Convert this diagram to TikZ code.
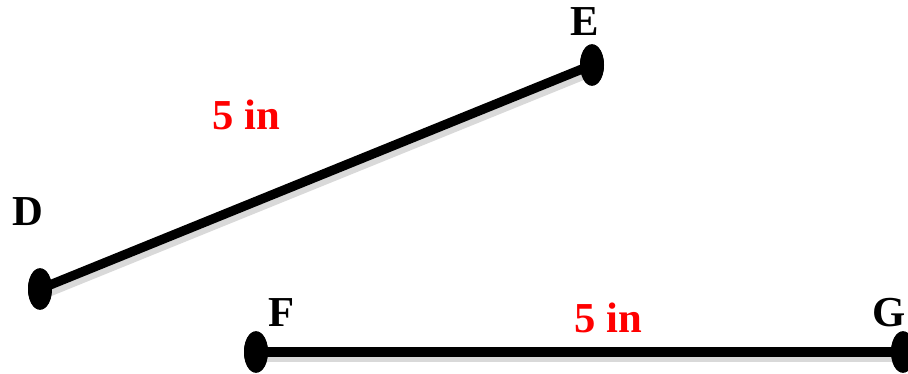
\documentclass[tikz,border=0pt]{standalone}
\usepackage{fontspec}
\setmainfont{Liberation Serif}
\usetikzlibrary{positioning, shapes.geometric}

\tikzset{
  dot/.style={ellipse, fill=black, inner sep=0pt, minimum width=18, minimum height=31},
  seg/.style={line width=7, black},
  segshadow/.style={line width=9, black!25, opacity=0.6},
  lbl/.style={font=\fontsize{32}{34}\selectfont\bfseries},
  len/.style={lbl, text=red}
}

\begin{document}
\begin{tikzpicture}[x=0.75pt, y=-0.75pt]
\useasboundingbox (0,0) rectangle (908,374);

% End points
\node[dot] (D) at (40,289) {};
\node[dot] (E) at (592,65) {};
\node[dot] (F) at (256,352) {};
\node[dot] (G) at (903,352) {};

% Shadows of the segments
\draw[segshadow] ([shift={(3,4)}]D.center) -- ([shift={(3,4)}]E.center);
\draw[segshadow] ([shift={(3,4)}]F.center) -- ([shift={(3,4)}]G.center);

% Segments
\draw[seg] (D.center) -- (E.center);
\draw[seg] (F.center) -- (G.center);
\node[dot] at (D) {};
\node[dot] at (E) {};
\node[dot] at (F) {};
\node[dot] at (G) {};

% Letters
\node[lbl] (labD) at (28,212) {D};
\node[lbl] (labE) at (585,22) {E};
\node[lbl] (labF) at (282,313) {F};
\node[lbl] (labG) at (889,313) {G};

% Lengths
\node[len] (lenDE) at (246,115) {5 in};
\node[len] (lenFG) at (608,318) {5 in};
\end{tikzpicture}
\end{document}
